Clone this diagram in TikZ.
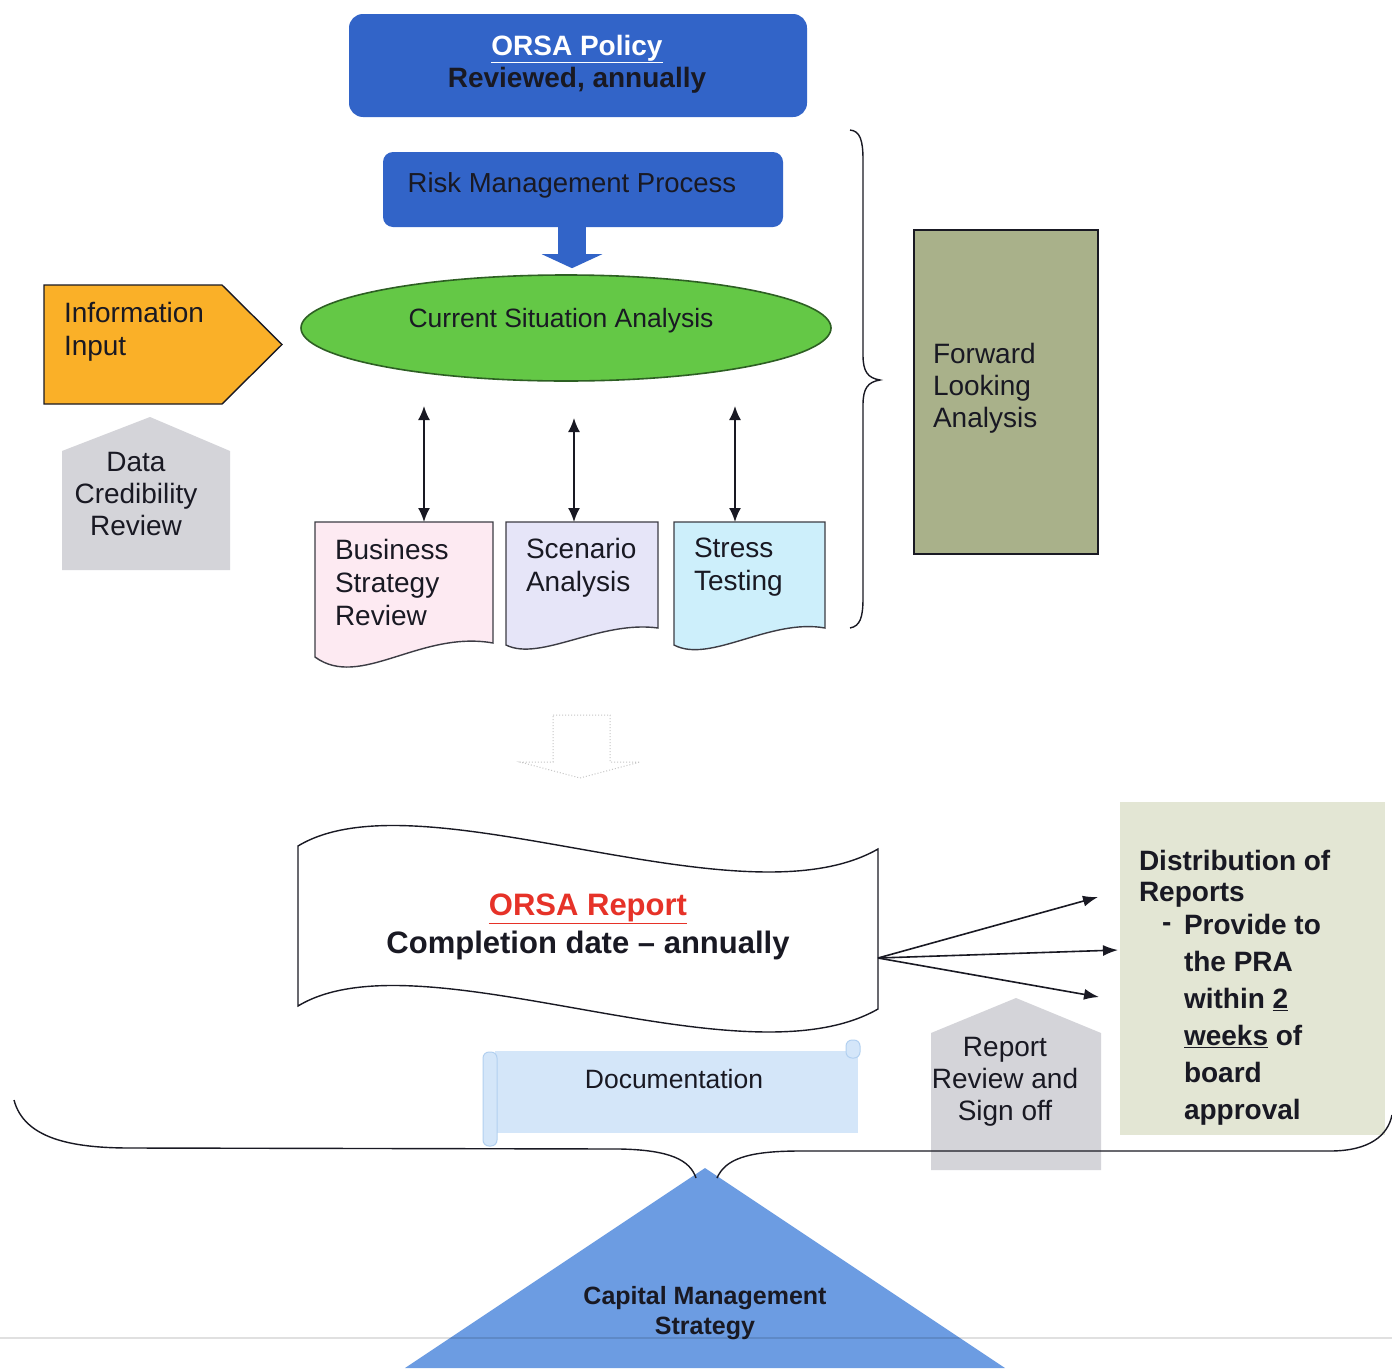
\documentclass[tikz,border=0pt]{standalone}
\usepackage{fontspec}
\setmainfont{Liberation Sans}
\usetikzlibrary{arrows.meta,shapes.geometric}
\definecolor{polblue}{RGB}{50,100,200}
\definecolor{csagreen}{RGB}{100,200,70}
\definecolor{csaborder}{RGB}{45,95,35}
\definecolor{infoorange}{RGB}{250,176,40}
\definecolor{housegray}{RGB}{212,212,217}
\definecolor{bsrpink}{RGB}{253,234,242}
\definecolor{scalav}{RGB}{230,229,248}
\definecolor{strcyan}{RGB}{205,239,251}
\definecolor{flaolive}{RGB}{169,177,138}
\definecolor{distbg}{RGB}{227,230,212}
\definecolor{docblue}{RGB}{212,230,249}
\definecolor{docedge}{RGB}{178,208,240}
\definecolor{capblue}{RGB}{108,156,226}
\definecolor{reportred}{RGB}{230,50,40}
\definecolor{inkdark}{RGB}{25,25,35}
\begin{document}
\begin{tikzpicture}[x=1pt,y=-1pt,
 line width=1.6pt,
 txt/.style={inner sep=0pt,outer sep=0pt,text=inkdark},
 lbl/.style={txt,font=\fontsize{28}{33}\selectfont,align=left,anchor=west},
 ctr/.style={txt,font=\fontsize{28}{32}\selectfont,align=center},
 dbl/.style={{Latex[length=14pt,width=12pt]}-{Latex[length=14pt,width=12pt]},line width=1.8pt,draw=inkdark},
 sgl/.style={-{Latex[length=15pt,width=11pt]},line width=1.6pt,draw=inkdark},
 box/.style={inner sep=0pt,outer sep=0pt},
 docshape/.style={draw=inkdark!85,line width=1.4pt},
]
\fill[white] (0,0) rectangle (1392,1368);
\useasboundingbox (0,0) rectangle (1392,1368);

% ORSA Policy
\node[box,fill=polblue,rounded corners=14pt,minimum width=458,minimum height=103,anchor=north west] (pol) at (349,14) {};
\node[txt,font=\bfseries\fontsize{28}{32}\selectfont,align=center] (polt) at (577,64) {\textcolor{white}{\underline{ORSA Policy}}\\Reviewed, annually};

% Risk Management Process
\node[box,fill=polblue,rounded corners=10pt,minimum width=400,minimum height=75,anchor=north west] (rmp) at (383,152) {};
\node[txt,font=\fontsize{27.5}{30}\selectfont] (rmpt) at (572,185) {Risk Management Process};

% Current Situation Analysis
\node[ellipse,draw=csaborder,fill=csagreen,line width=1.6pt,minimum width=530,minimum height=106,inner sep=0pt] (csa) at (566,328) {};
\node[txt,font=\fontsize{26.5}{30}\selectfont] (csat) at (561,321) {Current Situation Analysis};

% thick blue arrow
\draw[polblue,line width=28pt,-{Triangle[length=14pt,width=60pt]}] ([xshift=-11pt]rmp.south) -- ([xshift=6pt,yshift=6pt]csa.north);

% Information Input
\node[box,minimum width=238,minimum height=119,anchor=north west] (inf) at (44,285) {};
\draw[fill=infoorange,draw=inkdark,line width=1.4pt] (inf.north west) -- ([xshift=-60pt]inf.north east) -- (inf.east) -- ([xshift=-60pt]inf.south east) -- (inf.south west) -- cycle;
\node[lbl] (inft) at (64,332) {Information\\Input};

% Data Credibility Review
\fill[housegray] (62,451) -- (150,417) -- (230,451) -- (230,570) -- (62,570) -- cycle;
\node[ctr] (dcr) at (136,494) {Data\\Credibility\\Review};

% documents
\node[box,minimum width=178,minimum height=121,anchor=north west] (bsr) at (315,522) {};
\draw[docshape,fill=bsrpink] (315,522) -- (493,522) -- (493,643) .. controls (420,630) and (360,690) .. (315,657) -- cycle;
\node[lbl] (bsrt) at (335,582) {Business\\Strategy\\Review};

\node[box,minimum width=152,minimum height=106,anchor=north west] (sca) at (506,522) {};
\draw[docshape,fill=scalav] (506,522) -- (658,522) -- (658,628) .. controls (600,620) and (540,662) .. (506,645) -- cycle;
\node[lbl] (scat) at (526,567.5) {Scenario\\Analysis};

\node[box,minimum width=151,minimum height=106,anchor=north west] (str) at (674,522) {};
\draw[docshape,fill=strcyan] (674,522) -- (825,522) -- (825,628) .. controls (770,618) and (710,664) .. (674,645) -- cycle;
\node[lbl] (strt) at (694,567.5) {Stress\\Testing};

% double arrows
\coordinate (a1) at (424,406);
\coordinate (a2) at (574,418);
\coordinate (a3) at (735,406);
\draw[dbl] (a1) -- (a1 |- bsr.north);
\draw[dbl] (a2) -- (a2 |- sca.north);
\draw[dbl] (a3) -- (a3 |- str.north);

% right brace
\draw[line width=1.4pt,inkdark] (850,130) .. controls (860,131) and (863,140) .. (863,160) -- (863,355) .. controls (863,372) and (868,378) .. (880,380) .. controls (868,382) and (863,388) .. (863,405) -- (863,598) .. controls (863,618) and (860,626) .. (850,628);

% Forward Looking Analysis
\node[box,draw=inkdark,fill=flaolive,line width=1.6pt,minimum width=184,minimum height=324,anchor=north west] (fla) at (914,230) {};
\node[lbl,font=\fontsize{28}{32}\selectfont] (flat) at (933,388) {Forward\\Looking\\Analysis};

% faint dotted arrow
\draw[gray!45,dotted,line width=1pt] (553,715) -- (610,715) -- (610,762) -- (640,762) -- (580,778) -- (520,762) -- (553,762) -- cycle;

% ORSA Report banner
\draw[fill=white,draw=inkdark,line width=1.4pt] (298,846) .. controls (420,772) and (740,928) .. (878,849) -- (878,1009) .. controls (740,1088) and (420,932) .. (298,1006) -- cycle;
\node[txt,font=\bfseries\fontsize{31}{38}\selectfont,align=center] (rept) at (588,927) {\textcolor{reportred}{\underline{ORSA Report}}\\Completion date – annually};

% arrows to distribution
\coordinate (repR) at (878,958);
\coordinate (d1) at (1098,897);
\coordinate (d2) at (1118,950);
\coordinate (d3) at (1099,997);
\draw[sgl] (repR) -- (d1);
\draw[sgl] (repR) -- (d2);
\draw[sgl] (repR) -- (d3);

% Documentation scroll
\node[box,minimum width=363,minimum height=82,anchor=north west] (doc) at (495,1051) {};
\fill[docblue] (495,1051) rectangle (858,1133);
\draw[docedge,fill=docblue,line width=1pt,rounded corners=6pt] (483,1052) rectangle (497,1146);
\draw[docedge,fill=docblue,line width=1pt,rounded corners=6pt] (846,1040) rectangle (860,1058);
\node[txt,font=\fontsize{26.5}{30}\selectfont] (doct) at (674,1079) {Documentation};

% Report Review and Sign off
\fill[housegray] (931,1033) -- (1016,998) -- (1101,1033) -- (1101,1170) -- (931,1170) -- cycle;
\node[ctr] (rrt) at (1005,1082) {Report\\Review and\\Sign off};

% Distribution of Reports
\node[box,fill=distbg,minimum width=265,minimum height=333,anchor=north west] (dist) at (1120,802) {};
\node[lbl,font=\bfseries\fontsize{28}{31}\selectfont] (distt) at (1139,878.5) {Distribution of\\Reports};
\node[lbl,font=\bfseries\fontsize{28}{37}\selectfont] (distd) at (1162,927) {-};
\node[lbl,font=\bfseries\fontsize{28}{37}\selectfont] (distl) at (1184,1020) {Provide to\\the PRA\\within \underline{2}\\\underline{weeks} of\\board\\approval};

% Capital Management Strategy triangle
\fill[capblue] (705,1168) -- (1005,1368) -- (405,1368) -- cycle;
\node[txt,font=\bfseries\fontsize{25}{30}\selectfont,align=center] (capt) at (705,1313) {Capital Management\\Strategy};

% bottom brace
\draw[line width=1.4pt,inkdark] (14,1100) .. controls (24,1138) and (70,1148) .. (130,1148) -- (620,1149) .. controls (670,1150) and (690,1160) .. (696,1178);
\draw[line width=1.4pt,inkdark] (717,1178) .. controls (725,1160) and (745,1151) .. (800,1151) -- (1330,1151) .. controls (1370,1151) and (1388,1135) .. (1392,1115);

% faint line
\draw[black,opacity=0.12,line width=2pt] (0,1338) -- (1392,1338);
\end{tikzpicture}
\end{document}
